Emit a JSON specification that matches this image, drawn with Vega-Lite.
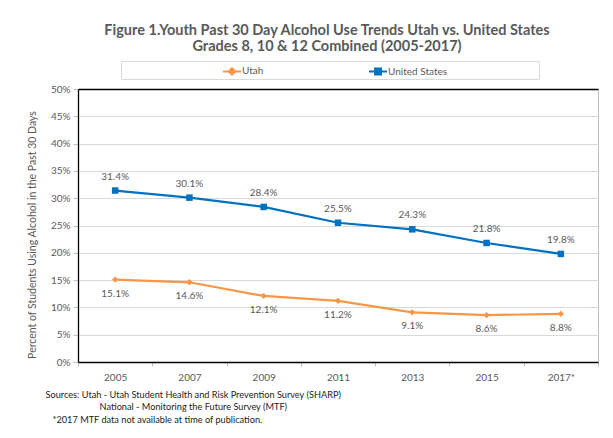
{
  "$schema": "https://vega.github.io/schema/vega-lite/v6.json",
  "width": 520,
  "height": 273,
  "autosize": {"type": "none"},
  "padding": {"left": 78, "top": 89, "right": 15, "bottom": 76},
  "background": "white",
  "title": {
    "text": ["Figure 1.Youth Past 30 Day Alcohol Use Trends Utah vs. United States", "Grades 8, 10 & 12 Combined (2005-2017)"],
    "font": "Lato", "fontSize": 14.5, "fontWeight": "bold", "color": "#595959",
    "anchor": "middle", "frame": "group", "dx": -11, "offset": 6, "lineHeight": 16
  },
  "data": {"values": [
    {"year": "2005", "series": "Utah", "value": 0.151},
    {"year": "2007", "series": "Utah", "value": 0.146},
    {"year": "2009", "series": "Utah", "value": 0.121},
    {"year": "2011", "series": "Utah", "value": 0.112},
    {"year": "2013", "series": "Utah", "value": 0.091},
    {"year": "2015", "series": "Utah", "value": 0.086},
    {"year": "2017*", "series": "Utah", "value": 0.088},
    {"year": "2005", "series": "United States", "value": 0.314},
    {"year": "2007", "series": "United States", "value": 0.301},
    {"year": "2009", "series": "United States", "value": 0.284},
    {"year": "2011", "series": "United States", "value": 0.255},
    {"year": "2013", "series": "United States", "value": 0.243},
    {"year": "2015", "series": "United States", "value": 0.218},
    {"year": "2017*", "series": "United States", "value": 0.198}
  ]},
  "config": {
    "view": {"stroke": "#bfbfbf"},
    "font": "Lato"
  },
  "resolve": {"axis": {"x": "independent"}},
  "encoding": {
    "y": {"field": "value", "type": "quantitative",
      "scale": {"domain": [0, 0.5], "nice": false},
      "axis": {
        "values": [0, 0.05, 0.1, 0.15, 0.2, 0.25, 0.3, 0.35, 0.4, 0.45, 0.5],
        "tickCount": 20,
        "labelOverlap": false,
        "format": ".0%",
        "title": "Percent of Students Using Alcohol in the Past 30 Days",
        "titleFont": "Lato", "titleFontSize": 10.5, "titleFontWeight": "normal", "titleColor": "#595959",
        "titlePadding": 13, "titleY": 145.5,
        "labelFont": "Lato", "labelFontSize": 10, "labelColor": "#595959", "labelPadding": 3,
        "tickSize": 5, "tickColor": "#bfbfbf", "gridColor": "#d9d9d9", "domainColor": "black", "domainWidth": 1.3
      }}
  },
  "layer": [
    {
      "transform": [{"filter": "datum.series === 'Utah'"}],
      "mark": {"type": "line", "strokeWidth": 2.2, "color": "#F79646"},
      "encoding": {
        "x": {"field": "year", "type": "nominal", "sort": null,
          "scale": {"type": "band", "paddingInner": 0, "paddingOuter": 0},
          "axis": {
            "title": ["Sources: Utah - Utah Student Health and Risk Prevention Survey (SHARP)", "\u200b\u00a0\u00a0\u00a0\u00a0\u00a0\u00a0\u00a0\u00a0\u00a0\u00a0\u00a0\u00a0\u00a0\u00a0\u00a0\u00a0\u00a0\u00a0\u00a0\u00a0\u00a0\u00a0\u00a0National - Monitoring the Future Survey (MTF)", "\u200b\u00a0\u00a0\u00a0*2017 MTF data not available at time of publication."],
            "titleFont": "Lato", "titleFontSize": 9.2, "titleFontWeight": "normal", "titleColor": "#222222",
            "titleAnchor": "start", "titleAlign": "left", "titleX": -33, "titleY": 28, "titleBaseline": "top", "titleLineHeight": 12.5,
            "labelAngle": 0, "labelFont": "Lato", "labelFontSize": 10, "labelColor": "#595959", "labelPadding": 6,
            "tickBand": "extent", "tickColor": "#bfbfbf", "tickSize": 4, "domainColor": "black", "domainWidth": 1.3, "grid": false
          }}
      }
    },
    {
      "transform": [{"filter": "datum.series === 'United States'"}],
      "mark": {"type": "line", "strokeWidth": 2.2, "color": "#0070C0"},
      "encoding": {
        "x": {"field": "year", "type": "nominal", "sort": null, "axis": null}
      }
    },
    {
      "transform": [{"filter": "datum.series === 'Utah'"}],
      "mark": {"type": "point", "shape": "diamond", "filled": true, "size": 40, "opacity": 1, "color": "#F79646"},
      "encoding": {
        "x": {"field": "year", "type": "nominal", "sort": null, "axis": null}
      }
    },
    {
      "transform": [{"filter": "datum.series === 'United States'"}],
      "mark": {"type": "point", "shape": "square", "filled": true, "size": 42, "opacity": 1, "color": "#0070C0"},
      "encoding": {
        "x": {"field": "year", "type": "nominal", "sort": null, "axis": null}
      }
    },
    {
      "transform": [{"filter": "datum.series === 'Utah'"}],
      "mark": {"type": "text", "dy": 14, "font": "Lato", "fontSize": 10, "color": "#595959"},
      "encoding": {
        "x": {"field": "year", "type": "nominal", "sort": null, "axis": null},
        "text": {"field": "value", "type": "quantitative", "format": ".1%"}
      }
    },
    {
      "transform": [{"filter": "datum.series === 'United States'"}],
      "mark": {"type": "text", "dy": -14, "font": "Lato", "fontSize": 10, "color": "#595959"},
      "encoding": {
        "x": {"field": "year", "type": "nominal", "sort": null, "axis": null},
        "text": {"field": "value", "type": "quantitative", "format": ".1%"}
      }
    },
    {
      "transform": [{"filter": "false"}],
      "mark": {"type": "point", "filled": true, "strokeWidth": 2, "opacity": 1},
      "encoding": {
        "x": {"field": "year", "type": "nominal", "sort": null,
          "axis": {"orient": "top", "labels": false, "ticks": false, "grid": false, "title": null, "domainColor": "black", "domainWidth": 1.3}},
        "color": {"field": "series", "type": "nominal",
          "scale": {"domain": ["Utah", "United States"], "range": ["#F79646", "#0070C0"]},
          "legend": {"orient": "none", "legendX": 43, "legendY": -28, "direction": "horizontal", "title": "\u00a0", "titleOrient": "right", "titlePadding": 92, "padding": 0, "strokeColor": "#d9d9d9", "symbolSize": 324, "symbolOffset": 101, "columnPadding": 3, "labelOffset": 0, "labelFont": "Lato", "labelFontSize": 10, "labelColor": "#595959", "symbolStrokeWidth": 2}},
        "stroke": {"field": "series", "type": "nominal",
          "scale": {"domain": ["Utah", "United States"], "range": ["#F79646", "#0070C0"]},
          "legend": {"orient": "none", "legendX": 43, "legendY": -28, "direction": "horizontal", "title": "\u00a0", "titleOrient": "right", "titlePadding": 92, "padding": 0, "strokeColor": "#d9d9d9", "symbolSize": 324, "symbolOffset": 101, "columnPadding": 3, "labelOffset": 0, "labelFont": "Lato", "labelFontSize": 10, "labelColor": "#595959", "symbolStrokeWidth": 2}},
        "shape": {"field": "series", "type": "nominal",
          "scale": {"domain": ["Utah", "United States"], "range": ["M-1,0H1M0,-0.35L0.35,0L0,0.35L-0.35,0Z", "M-1,0H1M-0.33,-0.33H0.33V0.33H-0.33Z"]},
          "legend": {"orient": "none", "legendX": 43, "legendY": -28, "direction": "horizontal", "title": "\u00a0", "titleOrient": "right", "titlePadding": 92, "padding": 0, "strokeColor": "#d9d9d9", "symbolSize": 324, "symbolOffset": 101, "columnPadding": 3, "labelOffset": 0, "labelFont": "Lato", "labelFontSize": 10, "labelColor": "#595959", "symbolStrokeWidth": 2}}
      }
    }
  ]
}
